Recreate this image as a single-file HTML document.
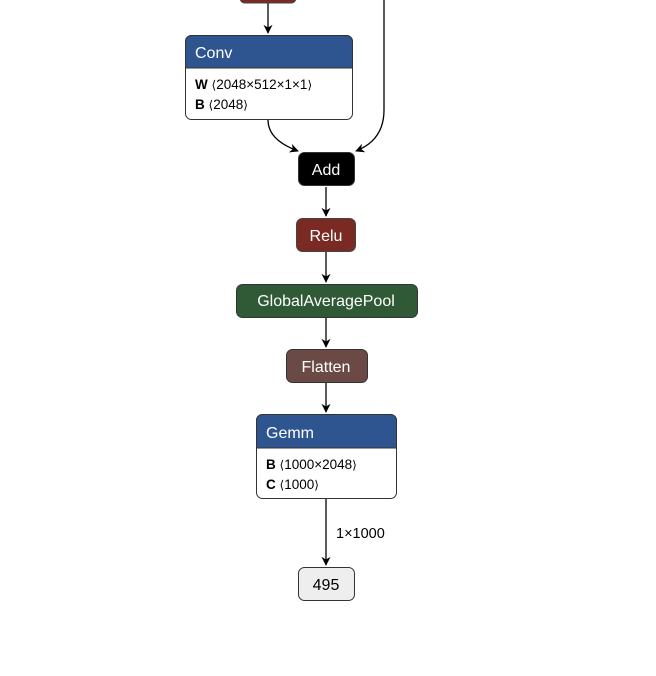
<!DOCTYPE html>
<html><head><meta charset="utf-8"><style>
html,body{margin:0;padding:0;background:#fff;}
svg{display:block;font-family:"Liberation Sans",sans-serif;}
</style></head><body>
<svg width="656" height="676" viewBox="0 0 656 676" xmlns="http://www.w3.org/2000/svg">
<defs><marker id="a" viewBox="0 0 10 10" refX="9" refY="5" markerWidth="7" markerHeight="7" orient="auto"><path d="M0,0 L10,5 L0,10 L3,5z" fill="#000"/></marker></defs>
<g stroke="#000" stroke-width="1.3" fill="none">
<path d="M268,3 V33" marker-end="url(#a)"/>
<path d="M384,0 V110 Q384,140 356,151" marker-end="url(#a)"/>
<path d="M268,120 Q268,140 298,151" marker-end="url(#a)"/>
<path d="M326,187 V216" marker-end="url(#a)"/>
<path d="M326,252 V282" marker-end="url(#a)"/>
<path d="M326,318 V347" marker-end="url(#a)"/>
<path d="M326,383 V412" marker-end="url(#a)"/>
<path d="M326,499 V565" marker-end="url(#a)"/>
</g>
<rect x="240" y="-10" width="56" height="13" rx="5" fill="#7a2a22" stroke="#444"/>
<rect x="185.5" y="35.5" width="167" height="84" rx="6" fill="#fff" stroke="#333"/>
<path d="M185.5,68 V41.5 a6,6 0 0 1 6,-6 H346.5 a6,6 0 0 1 6,6 V68 Z" fill="#2e5590" stroke="#333"/>
<text x="195" y="58" font-size="16" fill="#fff">Conv</text>
<text x="195" y="89" font-size="13.5"><tspan font-weight="bold">W</tspan> <tspan font-family="DejaVu Sans" font-size="12">⟨</tspan>2048×512×1×1<tspan font-family="DejaVu Sans" font-size="12">⟩</tspan></text>
<text x="195" y="109" font-size="13.5"><tspan font-weight="bold">B</tspan> <tspan font-family="DejaVu Sans" font-size="12">⟨</tspan>2048<tspan font-family="DejaVu Sans" font-size="12">⟩</tspan></text>
<rect x="298.5" y="152.5" width="56" height="33" rx="6" fill="#000" stroke="#333"/>
<text x="326" y="175" font-size="16" fill="#fff" text-anchor="middle">Add</text>
<rect x="296.5" y="218.5" width="59" height="33" rx="6" fill="#7a2a22" stroke="#444"/>
<text x="326" y="241" font-size="16" fill="#fff" text-anchor="middle">Relu</text>
<rect x="236.5" y="284.5" width="181" height="33" rx="6" fill="#2f5a35" stroke="#333"/>
<text x="326" y="306" font-size="16" fill="#fff" text-anchor="middle">GlobalAveragePool</text>
<rect x="286.5" y="349.5" width="81" height="33" rx="6" fill="#6b4a45" stroke="#333"/>
<text x="326" y="372" font-size="16" fill="#fff" text-anchor="middle">Flatten</text>
<rect x="256.5" y="414.5" width="140" height="84" rx="6" fill="#fff" stroke="#333"/>
<path d="M256.5,448 V420.5 a6,6 0 0 1 6,-6 H390.5 a6,6 0 0 1 6,6 V448 Z" fill="#2e5590" stroke="#333"/>
<text x="266" y="438" font-size="16" fill="#fff">Gemm</text>
<text x="266" y="469" font-size="13.5"><tspan font-weight="bold">B</tspan> <tspan font-family="DejaVu Sans" font-size="12">⟨</tspan>1000×2048<tspan font-family="DejaVu Sans" font-size="12">⟩</tspan></text>
<text x="266" y="489" font-size="13.5"><tspan font-weight="bold">C</tspan> <tspan font-family="DejaVu Sans" font-size="12">⟨</tspan>1000<tspan font-family="DejaVu Sans" font-size="12">⟩</tspan></text>
<text x="336" y="538" font-size="14.5">1×1000</text>
<rect x="298.5" y="567.5" width="56" height="33" rx="6" fill="#eee" stroke="#333"/>
<text x="326" y="590" font-size="16" fill="#000" text-anchor="middle">495</text>
</svg>
</body></html>
